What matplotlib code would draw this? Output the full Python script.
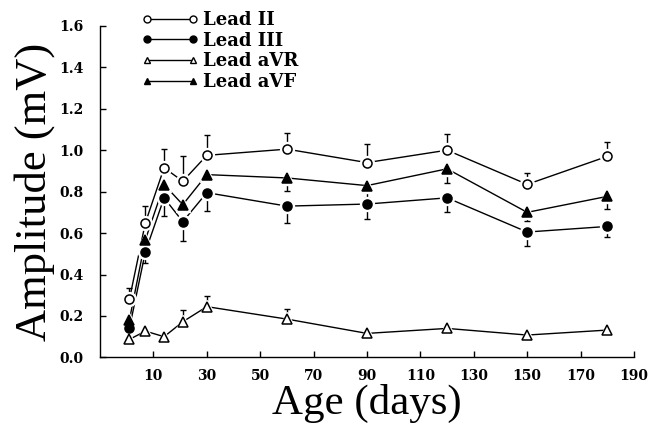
import matplotlib
matplotlib.use("Agg")
import matplotlib.pyplot as plt

# days of age
age = [1, 7, 14, 21, 30, 60, 90, 120, 150, 180]

# amplitude (mV) per lead, with SEM
lead_ii = [0.28, 0.65, 0.915, 0.85, 0.975, 1.005, 0.94, 1.0, 0.835, 0.97]
lead_ii_err = [0.055, 0.08, 0.09, 0.12, 0.10, 0.078, 0.09, 0.08, 0.057, 0.07]

lead_iii = [0.14, 0.51, 0.77, 0.655, 0.795, 0.73, 0.74, 0.77, 0.605, 0.632]
lead_iii_err = [0.0, 0.055, 0.09, 0.093, 0.09, 0.08, 0.07, 0.07, 0.065, 0.053]

lead_avr = [0.087, 0.127, 0.10, 0.172, 0.245, 0.185, 0.116, 0.14, 0.108, 0.132]
lead_avr_err = [0.0, 0.0, 0.0, 0.057, 0.052, 0.049, 0.0, 0.0, 0.0, 0.0]

lead_avf = [0.18, 0.568, 0.834, 0.737, 0.882, 0.866, 0.829, 0.91, 0.70, 0.777]
lead_avf_err = [0.0, 0.0, 0.0, 0.0, 0.0, 0.065, 0.06, 0.068, 0.044, 0.06]

x_ticks = [10, 30, 50, 70, 90, 110, 130, 150, 170, 190]
y_ticks = [0.0, 0.2, 0.4, 0.6, 0.8, 1.0, 1.2, 1.4, 1.6]

fig = plt.figure(figsize=(6.58, 4.23), dpi=100)
ax = fig.add_axes([0.152, 0.155, 0.8115, 0.784])

series = [
    ("Lead II", lead_ii, lead_ii_err, "o", "white", "up"),
    ("Lead III", lead_iii, lead_iii_err, "o", "black", "down"),
    ("Lead aVR", lead_avr, lead_avr_err, "^", "white", "up"),
    ("Lead aVF", lead_avf, lead_avf_err, "^", "black", "down"),
]

handles = []
for label, vals, err, mk, fc, direction in series:
    if direction == "up":
        yerr = [[0] * len(err), err]
    else:
        yerr = [err, [0] * len(err)]
    ax.errorbar(age, vals, yerr=yerr, fmt="none", ecolor="black",
                elinewidth=1.0, capsize=2.5, capthick=1.0, zorder=2)
    ax.plot(age, vals, color="black", lw=1.0, zorder=3)
    # white halo so lines stop short of the markers
    ax.plot(age, vals, ls="none", marker=mk, ms=10, mfc="white", mec="white", zorder=4)
    ax.plot(age, vals, ls="none", marker=mk, ms=6.5, mfc=fc, mec="black",
            mew=1.1, zorder=5)
    handles.append(plt.Line2D([], [], color="black", lw=1.0, marker=mk, ms=5,
                              mfc=fc, mec="black", mew=1.0))

ax.set_xlim(-10, 190)
ax.set_ylim(0, 1.6)
ax.set_xticks(x_ticks)
ax.set_yticks(y_ticks)
ax.set_yticklabels(["%.1f" % v for v in y_ticks])
ax.tick_params(direction="in", length=4, width=1.0, labelsize=10)
ax.tick_params(axis="x", pad=8)
ax.tick_params(axis="y", pad=12)
for lab in ax.get_xticklabels() + ax.get_yticklabels():
    lab.set_fontfamily("DejaVu Serif")
    lab.set_fontweight("bold")

ax.spines["top"].set_visible(False)
ax.spines["right"].set_visible(False)
ax.spines["left"].set_linewidth(1.0)
ax.spines["bottom"].set_linewidth(1.0)

ax.set_xlabel("Age (days)", family="Liberation Serif", fontsize=31, labelpad=1)
ax.set_ylabel("Amplitude (mV)", family="Liberation Serif", fontsize=32, labelpad=3)

leg = fig.legend(handles, [s[0] for s in series], loc="upper left",
                 bbox_to_anchor=(0.198, 1.0), frameon=False, numpoints=2,
                 handlelength=3.2, handletextpad=0.25, labelspacing=0.15,
                 borderaxespad=0.2, prop={"family": "DejaVu Serif", "size": 13,
                                          "weight": "bold"})

fig.savefig("out.png", dpi=100)
